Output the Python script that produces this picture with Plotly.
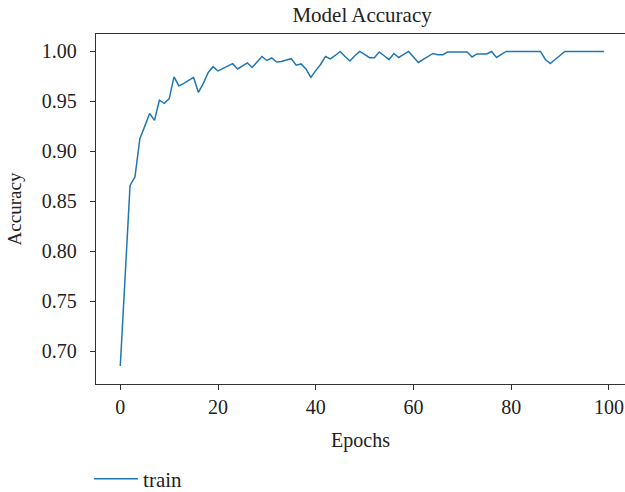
import plotly.graph_objects as go

epochs = list(range(100))
train_acc = [
    0.685, 0.775, 0.8658, 0.8742, 0.9125, 0.925, 0.938, 0.931, 0.9512, 0.948,
    0.9525, 0.9745, 0.9655, 0.968, 0.971, 0.974, 0.959, 0.968, 0.979, 0.9848,
    0.9805, 0.983, 0.9855, 0.9878, 0.9825, 0.9855, 0.9885, 0.984, 0.9895, 0.995,
    0.991, 0.9935, 0.9895, 0.990, 0.9915, 0.9928, 0.9862, 0.9875, 0.9825, 0.974,
    0.9808, 0.987, 0.995, 0.9925, 0.996, 1.0, 0.995, 0.9905, 0.9957, 1.0,
    0.997, 0.9938, 0.9938, 0.9995, 0.9957, 0.9918, 0.998, 0.994, 0.997, 1.0,
    0.9945, 0.989, 0.992, 0.995, 0.998, 0.9968, 0.9968, 0.9995, 0.9995, 0.9995,
    0.9995, 0.9995, 0.9945, 0.9975, 0.9975, 0.9975, 1.0, 0.994, 0.997, 1.0,
    1.0, 1.0, 1.0, 1.0, 1.0, 1.0, 1.0, 0.992, 0.988, 0.992,
    0.996, 1.0, 1.0, 1.0, 1.0, 1.0, 1.0, 1.0, 1.0, 1.0,
]
x_ticks = [0, 20, 40, 60, 80, 100]
y_ticks = [0.70, 0.75, 0.80, 0.85, 0.90, 0.95, 1.00]
y_tick_text = ["0.70", "0.75", "0.80", "0.85", "0.90", "0.95", "1.00"]

FONT = "Liberation Serif"
TXT = "#222222"

fig = go.Figure()
fig.add_trace(go.Scatter(
    x=epochs, y=train_acc, mode="lines", name="train",
    line=dict(color="#1f77b4", width=1.5),
))

axis_common = dict(
    showline=True, linecolor="#333333", linewidth=1.3, mirror=True,
    ticks="outside", ticklen=5, tickwidth=1.2, tickcolor="#333333",
    showgrid=False, zeroline=False, automargin=False,
    tickfont=dict(family=FONT, size=20, color=TXT),
)

fig.update_layout(
    width=625, height=492,
    margin=dict(l=96, r=0, t=34, b=108),
    paper_bgcolor="white", plot_bgcolor="white",
    title=dict(text="Model Accuracy", x=0.503, xref="paper", xanchor="center",
               y=1 - 15 / 492, yref="container", yanchor="middle",
               font=dict(family=FONT, size=21, color=TXT)),
    xaxis=dict(range=[-4.97, 103.3], tickvals=x_ticks,
               title=dict(text="Epochs", font=dict(family=FONT, size=20, color=TXT)),
               **axis_common),
    yaxis=dict(range=[0.667, 1.0175], tickvals=y_ticks, ticktext=y_tick_text,
               ticklabelstandoff=9,
               title=dict(text="Accuracy", font=dict(family=FONT, size=19, color=TXT)),
               **axis_common),
    showlegend=True,
    legend=dict(orientation="h", x=-0.013, xanchor="left",
                y=1 - 479 / 492, yref="container", yanchor="middle",
                itemwidth=44,
                font=dict(family=FONT, size=21, color=TXT),
                bgcolor="rgba(0,0,0,0)"),
)

fig.write_html("out.html", config={"displayModeBar": False},
               post_script="document.body.style.margin='0';")
